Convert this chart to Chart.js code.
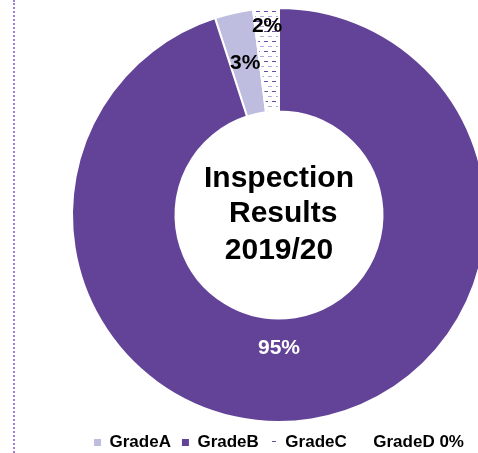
<!DOCTYPE html>
<html>
<head>
<meta charset="utf-8">
<script src="https://cdn.jsdelivr.net/npm/chart.js@4.4.1/dist/chart.umd.min.js"></script>
<style>
  html, body { margin: 0; padding: 0; background: #fff; overflow: hidden; }
  #wrap { position: relative; width: 478px; height: 453px; overflow: hidden; }
  #leftLine { position: absolute; left: 13px; top: 0; height: 453px; border-left: 2px dotted #a27bd3; }
  #chart { position: absolute; left: 0; top: 0; }
</style>
</head>
<body>
<div id="wrap">
  <div id="leftLine"></div>
  <canvas id="chart" width="558" height="461"></canvas>
</div>
<script>
// Data - slice order as drawn clockwise from the first slice
const categories = ['GradeA', 'GradeC', 'GradeB', 'GradeD'];
const values = [3, 2, 95, 0];
// Legend reads in grade order
const legendOrder = ['GradeA', 'GradeB', 'GradeC', 'GradeD'];
const centerLines = ['Inspection', ' Results', '2019/20'];

// Label placement: fraction across the ring, and angle shift in degrees
const labelRadius = [0.5, 0.83, 0.29, 0];
const labelShift = [0, 0, 9, 0];
const labelColors = ['#000', '#000', '#fff', '#000'];

const FONT = "'Liberation Sans', Arial, sans-serif";

// Dashed pattern fill for GradeC
function makePattern() {
    const c = document.createElement('canvas');
    c.width = 8;
    c.height = 10;
    const g = c.getContext('2d');
    g.fillStyle = '#fff';
    g.fillRect(0, 0, 8, 10);
    g.fillStyle = '#6b4aa8';
    g.fillRect(0, 1, 4, 1);
    g.fillStyle = '#b7a6d8';
    g.fillRect(4, 6, 4, 1);
    return document.getElementById('chart').getContext('2d').createPattern(c, 'repeat');
}

const colors = {
    GradeA: '#bebddf',
    GradeB: '#634398',
    GradeC: makePattern(),
    GradeD: '#ffffff'
};

// Draw the title text in the hole
const centerText = {
    id: 'centerText',
    afterDraw(chart) {
        const arc = chart.getDatasetMeta(0).data[0];
        const ctx = chart.ctx;
        ctx.save();
        ctx.font = `bold 30px ${FONT}`;
        ctx.fillStyle = '#000';
        ctx.textAlign = 'center';
        ctx.textBaseline = 'alphabetic';
        const offsets = [-28, 7, 44];
        centerLines.forEach((line, i) => {
            ctx.fillText(line, arc.x, arc.y + offsets[i]);
        });
        ctx.restore();
    }
};

// Percent labels on slices
const sliceLabels = {
    id: 'sliceLabels',
    afterDatasetsDraw(chart) {
        const ctx = chart.ctx;
        const meta = chart.getDatasetMeta(0);
        ctx.save();
        ctx.font = `bold 21px ${FONT}`;
        ctx.textAlign = 'center';
        ctx.textBaseline = 'middle';
        meta.data.forEach((arc, i) => {
            if (!values[i]) return;
            const p = arc.getProps(['x', 'y', 'startAngle', 'endAngle', 'innerRadius', 'outerRadius'], true);
            const mid = (p.startAngle + p.endAngle) / 2 + labelShift[i] * Math.PI / 180;
            const r = p.innerRadius + labelRadius[i] * (p.outerRadius - p.innerRadius);
            ctx.fillStyle = labelColors[i];
            ctx.fillText(values[i] + '%', p.x + Math.cos(mid) * r, p.y + Math.sin(mid) * r);
        });
        ctx.restore();
    }
};

const ctx = document.getElementById('chart').getContext('2d');
const chart = new Chart(ctx, {
    type: 'doughnut',
    data: {
        labels: categories,
        datasets: [{
            data: values,
            backgroundColor: categories.map(c => colors[c]),
            borderColor: '#ffffff',
            borderWidth: 2
        }]
    },
    options: {
        responsive: false,
        animation: false,
        rotation: -18,
        cutout: '50%',
        layout: { padding: { top: 7, bottom: 0 } },
        plugins: {
            tooltip: { enabled: false },
            legend: {
                position: 'bottom',
                labels: {
                    boxWidth: 7,
                    boxHeight: 7,
                    padding: 11,
                    color: '#000',
                    font: { family: FONT, size: 17, weight: 'bold' },
                    generateLabels(chart) {
                        const items = Chart.overrides.doughnut.plugins.legend.labels.generateLabels(chart);
                        items.forEach(item => {
                            item.lineWidth = 0;
                            item.hidden = false;
                            if (values[item.index] === 0) item.text += ' ' + values[item.index] + '%';
                        });
                        return items.sort((a, b) =>
                            legendOrder.indexOf(categories[a.index]) - legendOrder.indexOf(categories[b.index]));
                    }
                }
            }
        }
    },
    plugins: [centerText, sliceLabels]
});
</script>
</body>
</html>
